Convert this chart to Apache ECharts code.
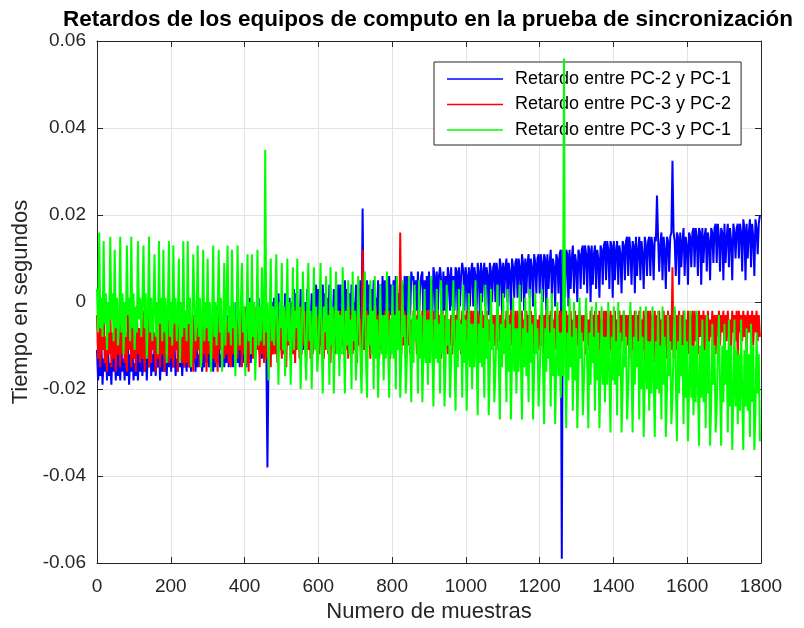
<!DOCTYPE html>
<html>
<head>
<meta charset="utf-8">
<script src="https://cdn.jsdelivr.net/npm/echarts@6/dist/echarts.min.js"></script>
<style>
  html, body { margin: 0; padding: 0; background: #ffffff; }
  #chart { width: 804px; height: 628px; }
</style>
</head>
<body>
<div id="chart"></div>
<script>
// Una muestra graficada cada PASO muestras del registro
const PASO = 3;

// Retardos en milisegundos (se convierten a segundos al graficar)
const retardoPC2PC1 = [
  -11,-18,-12,-17,-10,-19,-13,-16,-8,-18,-11,-17,-14,-19,-10,-16,-12,-18,-9,-17,
  -12,-18,-10,-16,-13,-18,-7,-17,-11,-19,-12,-16,-10,-18,-14,-17,-9,-18,-11,-16,
  -10,-17,-13,-16,-9,-18,-11,-15,-6,-17,-12,-16,-10,-17,-13,-15,-9,-18,-11,-16,
  -9,-16,-12,-17,-10,-15,-4,-16,-11,-15,-9,-17,-13,-16,-8,-15,-10,-17,-12,-15,
  -11,-16,-8,-15,-12,-16,-9,-14,-3,-16,-10,-15,-12,-14,-8,-16,-11,-15,-5,-14,
  -8,-15,-11,-14,-7,-16,-10,-15,-1,-14,-9,-15,-12,-13,-7,-15,-10,-14,-3,-15,
  -7,-14,-10,-15,-5,-13,0,-14,-8,-15,-6,-12,-11,-14,-4,-15,-9,-13,1,-14,
  -5,-12,-8,-13,-3,-11,1,-12,-6,-13,-4,-11,-9,-12,-38,-13,-3,-11,0,-12,
  1,-8,-2,-9,2,-7,0,-12,-1,-8,2,-9,-3,-7,1,-11,0,-8,3,-9,
  2,-7,-1,-8,3,-6,1,-11,0,-7,3,-8,-2,-6,2,-10,1,-7,4,-8,
  3,-6,0,-7,4,-5,2,-10,1,-6,4,-7,-1,-5,3,-9,2,-6,4,-7,
  4,-5,1,-6,5,-4,3,-9,2,-5,4,-6,0,-4,4,-8,3,-5,5,-6,
  21.5,-4,2,-5,5,-3,4,-8,3,-4,5,-5,1,-3,5,-7,4,-4,6,-5,
  5,-4,3,-4,6,-3,4,-7,5,-3,6,-4,2,-2,6,-6,4,-3,6,-4,
  6,-3,4,-3,7,5,6,-6,5,-2,7,-3,3,6,7,-5,5,-3,6,-2,
  7,-2,5,-3,8,6,-5,7,-2,6,8,5,-3,7,-2,6,-4,8,6,-2,
  8,-1,6,-2,8,7,-4,8,-1,6,9,7,-2,8,6,-3,8,-1,7,9,
  -1,8,6,-2,9,7,-4,9,0,7,9,-1,8,6,-3,9,7,0,8,9,
  0,9,7,-1,10,8,-3,9,1,8,10,0,9,7,-2,10,8,1,9,10,
  1,10,8,0,11,9,-2,10,2,9,11,1,10,8,-1,11,9,2,10,11,
  2,11,9,0,11,10,-2,11,3,9,12,1,10,8,-1,11,10,2,11,12,
  -59,12,10,1,12,11,-1,12,3,10,13,2,11,9,0,12,11,3,12,13,
  4,13,11,2,13,12,0,13,4,11,13,3,12,10,1,13,12,4,13,14,
  5,14,12,3,14,13,1,14,5,12,14,4,13,11,2,14,13,5,14,15,
  6,15,12,4,14,13,2,15,6,12,15,5,14,11,3,15,13,6,14,15,
  6,15,13,5,15,14,24.5,15,7,13,16,5,15,12,3,15,14,7,15,16,
  32.5,16,14,6,16,15,4,16,8,14,17,6,15,13,4,16,15,8,16,17,
  8,17,15,6,17,16,4,17,9,15,17,7,16,14,5,17,16,9,17,18,
  9,18,15,7,17,16,5,18,9,15,18,8,17,14,5,18,16,10,17,18,
  10,18,16,7,19,17,5,18,10,16,19,8,18,15,6,19,17,11,18,20
];

const retardoPC3PC2 = [
  -3,-13,-1,-15,-6,-11,-2,-14,-8,-16,-4,-12,-1,-15,-7,-13,-3,-16,-5,-12,
  -2,-15,-5,-12,-1,-14,-7,-16,-3,-11,-6,-15,-2,-13,-4,-16,-1,-12,-6,-14,
  -4,-13,-2,-16,-6,-12,-1,-15,-5,-14,-3,-11,-7,-16,-2,-13,-4,-15,-1,-12,
  -5,-16,-2,-12,-4,-14,-1,-13,-6,-15,-3,-11,-2,-16,-5,-12,-1,-14,-4,-15,
  -2,-14,-5,-15,-1,-12,-4,-16,-3,-13,-6,-11,-2,-15,-4,-14,-1,-12,-5,-16,
  -3,-12,-1,-15,-5,-13,-2,-14,-4,-16,-1,-11,-3,-15,-6,-13,-2,-12,-4,-14,
  -1,-15,-4,-12,-2,-14,-5,-13,-3,-11,-2,-15,-4,-12,-1,-14,-3,-16,-5,-12,
  -2,-13,-4,-14,-1,-11,-3,-15,-2,-12,-5,-14,-3,-13,-2,-11,-4,-15,-1,-12,
  -3,-12,-2,-14,-4,-11,-1,-13,-3,-12,-2,-15,-4,-10,-2,-13,-3,-12,-1,-14,
  -2,-11,-3,-13,-1,-12,-4,-10,-2,-14,-3,-11,-2,-13,-4,-12,-1,-10,-3,-13,
  -3,-12,-2,-10,-4,-13,-1,-11,-3,-12,-2,-14,-3,-10,-2,-12,-4,-11,-2,-13,
  -2,-10,-3,-12,-2,-11,-4,-13,-1,-10,-3,-12,-2,-11,-3,-14,-2,-10,-4,-12,
  12,-11,-3,-12,-2,-10,-4,-13,-2,-11,-3,-12,-1,-10,-3,-13,-2,-11,-4,-12,
  -2,-12,-3,-10,-2,-13,-4,-11,-2,-12,-3,-10,-2,-11,16,-12,-3,-10,-2,-13,
  -3,-10,-2,-12,-4,-11,-2,-9,-3,-12,-2,-10,-4,-11,-2,-13,-3,-9,-2,-11,
  -2,-11,-3,-9,-2,-12,-4,-10,-2,-11,-3,-13,-2,-9,-3,-11,-2,-12,-4,-10,
  -3,-12,-2,-10,-3,-9,-2,-11,-4,-12,-2,-10,-3,-11,-2,-9,-3,-12,-2,-10,
  -2,-10,-4,-11,-2,-12,-3,-9,-2,-11,-3,-10,-2,-12,-4,-9,-2,-11,-3,-10,
  -3,-11,-2,-9,-3,-12,-2,-10,-4,-11,-2,-9,-3,-12,-2,-10,-3,-11,-2,-13,
  -2,-9,-3,-11,-2,-10,-4,-12,-2,-9,-3,-11,-2,-10,-3,-12,-2,-9,-4,-11,
  -3,-10,-2,-12,-3,-9,-2,-11,-3,-10,-2,-12,-4,-9,-2,-11,-3,-10,-2,-12,
  -2,-11,-3,-9,-2,-12,-3,-10,-2,-11,-4,-9,-2,-12,-3,-10,-2,-11,-3,-9,
  -3,-12,-2,-10,-4,-11,-2,-9,-3,-12,-2,-10,-3,-11,-2,-13,-4,-10,-2,-11,
  -2,-10,-3,-12,-2,-11,-3,-13,-2,-10,-4,-12,-2,-11,-3,-9,-2,-12,-3,-10,
  -3,-13,-2,-11,-3,-14,-2,-10,-3,-12,-2,-13,-4,-11,-2,-14,-3,-12,-2,-10,
  -2,-12,-3,-14,-2,-11,-3,-13,-2,-12,-4,-14,-2,-10,-3,-13,-2,-12,-3,-11,
  8,-13,-2,-11,-3,-14,-2,-12,-3,-10,-2,-13,-4,-11,-2,-12,-3,-14,-2,-11,
  -2,-9,-3,-12,-2,-8,-3,-10,-2,-13,-3,-9,-2,-11,-4,-8,-2,-10,-3,-12,
  -3,-8,-2,-10,-3,-7,-2,-12,-3,-9,-2,-8,-4,-11,-2,-7,-3,-9,-2,-13,
  -2,-7,-3,-9,-2,-8,-3,-12,-2,-7,-3,-8,-2,-10,-3,-7,-2,-9,-3,-8
];

const retardoPC3PC1 = [
  3,-7,16,-6,1,-8,14,-5,2,-11,0,-7,15,-4,2,-9,12,-6,1,-10,
  -5,15,-7,2,-12,0,-8,13,-3,1,-9,15,-6,2,-11,-1,-7,14,-4,1,
  -8,0,13,-6,2,-13,-3,15,-7,1,-9,-2,11,-8,0,-12,14,-5,1,-9,
  12,-7,1,-14,-2,14,-8,0,-10,13,-5,1,-9,-3,10,-14,0,-8,14,-6,
  -2,-9,14,-5,1,-15,-7,11,0,-9,-3,13,-8,1,-15,-4,12,-9,0,-6,
  10,-9,0,-16,-4,13,-8,0,-10,-2,12,-7,1,-16,-5,9,-10,0,13,-7,
  -1,-10,12,-6,0,-17,-8,13,-3,-10,0,9,-7,-1,-17,-5,11,-9,0,-12,
  11,-8,0,-18,-5,12,-10,-1,-9,8,-4,-10,35,-7,0,-18,-3,10,-9,-1,
  -10,-2,11,-8,-19,0,-6,9,-11,-1,-17,-5,10,-9,0,-19,-7,8,-11,-2,
  -6,10,-11,-1,-20,-8,7,-3,-11,-18,0,9,-9,-2,-20,-7,8,-11,-1,-16,
  -12,-2,9,-9,-21,-1,-7,6,-11,-3,-19,8,-10,-1,-21,-6,7,-12,-2,-17,
  -3,-12,8,-7,-21,-2,-10,5,-12,-4,-20,7,-9,-2,-18,-11,6,-3,-12,-21,
  -8,-2,7,-13,-22,-3,-10,5,-12,-2,-20,6,-13,-4,-22,-9,4,-12,-3,-18,
  -3,-13,7,-10,-22,-4,-12,4,-13,-3,-20,6,-11,-2,-22,-13,5,-8,-3,-21,
  -13,-4,6,-11,-23,-3,-14,4,-9,-4,-21,5,-13,-3,-23,-12,3,-14,-4,-19,
  -4,-14,6,-11,-24,-4,-13,3,-14,-5,-21,5,-12,-3,-24,-14,4,-10,-4,-22,
  -14,-5,5,-12,-25,-4,-15,3,-11,-5,-22,4,-14,-4,-25,-13,2,-15,-5,-20,
  -5,-15,5,-12,-26,-5,-14,2,-15,-6,-22,4,-13,-4,-26,-15,3,-11,-5,-23,
  -16,-6,4,-13,-27,-5,-15,2,-12,-6,-23,3,-16,-5,-27,-14,1,-16,-6,-21,
  -6,-16,4,-13,-27,-6,-15,1,-17,-7,-23,3,-14,-5,-27,-16,2,-12,-6,-24,
  -17,-7,3,-14,-28,-6,-16,1,-13,-7,-24,2,-17,-6,-28,-15,0,-17,-7,-22,
  -7,-17,56,-14,-29,-7,-18,1,-15,-8,-25,0,-18,-6,-29,-16,1,-13,-7,-26,
  -18,-8,1,-15,-29,-7,-19,-1,-14,-8,-25,0,-18,-7,-29,-16,-1,-19,-8,-23,
  -8,-19,0,-16,-30,-8,-18,-1,-19,-9,-26,0,-17,-7,-30,-19,-2,-15,-8,-27,
  -20,-9,0,-16,-30,-8,-19,-2,-15,-9,-27,-1,-20,-8,-31,-18,-1,-20,-9,-25,
  -9,-21,-1,-17,-31,-9,-20,-2,-21,-10,-27,-1,-19,-8,-31,-21,-3,-17,-9,-28,
  -22,-10,-1,-18,-32,-9,-21,-3,-17,-10,-28,-2,-22,-9,-32,-20,-2,-22,-10,-26,
  -10,-23,-2,-19,-33,-10,-22,-4,-23,-11,-29,-3,-21,-9,-33,-23,-5,-19,-10,-30,
  -24,-11,-3,-20,-33,-10,-23,-5,-19,-11,-30,-4,-24,-10,-34,-22,-4,-24,-11,-28,
  -12,-25,-4,-21,-34,-11,-24,-6,-25,-12,-31,-5,-23,-10,-34,-25,-7,-21,-12,-32
];

const nombresSeries = [
  'Retardo entre PC-2 y PC-1',
  'Retardo entre PC-3 y PC-2',
  'Retardo entre PC-3 y PC-1'
];
const coloresSeries = ['#0000ff', '#ff0000', '#00ff00'];

const titulo = 'Retardos de los equipos de computo en la prueba de sincronización';
const etiquetaX = 'Numero de muestras';
const etiquetaY = 'Tiempo en segundos';

// Pares [muestra, segundos]
function aPares(valoresMs) {
  return valoresMs.map((v, i) => [i * PASO, v / 1000]);
}

const FUENTE = '"Liberation Sans", Arial, Helvetica, sans-serif';
const GRIS = '#262626';

const chart = echarts.init(document.getElementById('chart'), null, { renderer: 'canvas' });

const ejeX = {
  type: 'value', min: 0, max: 1800, interval: 200,
  axisLine: { show: true, onZero: false, lineStyle: { color: GRIS, width: 1 } },
  axisTick: { show: true, inside: true, length: 6, lineStyle: { color: GRIS } },
  splitLine: { show: true, lineStyle: { color: '#e3e3e3', width: 1 } }
};
const ejeY = {
  type: 'value', min: -0.06, max: 0.06, interval: 0.02,
  axisLine: { show: true, onZero: false, lineStyle: { color: GRIS, width: 1 } },
  axisTick: { show: true, inside: true, length: 6, lineStyle: { color: GRIS } },
  splitLine: { show: true, lineStyle: { color: '#e3e3e3', width: 1 } }
};

chart.setOption({
  animation: false,
  backgroundColor: '#ffffff',
  title: {
    text: titulo,
    left: 423, top: 3, textAlign: 'center',
    textStyle: { fontFamily: FUENTE, fontSize: 22.5, fontWeight: 'bold', color: '#000' }
  },
  grid: { left: 97, right: 43, top: 41, bottom: 64, containLabel: false },
  legend: {
    orient: 'vertical',
    left: 434, top: 62,
    icon: 'rect',
    itemWidth: 56, itemHeight: 1.5, itemGap: 7.5,
    padding: [8, 10, 6, 13],
    borderColor: GRIS, borderWidth: 1, backgroundColor: '#ffffff',
    textStyle: { fontFamily: FUENTE, fontSize: 18, lineHeight: 18, color: '#000', padding: [0, 0, 0, 7] },
    data: nombresSeries
  },
  xAxis: [
    Object.assign({}, ejeX, {
      position: 'bottom',
      name: etiquetaX, nameLocation: 'middle', nameGap: 37,
      nameTextStyle: { fontFamily: FUENTE, fontSize: 22, color: GRIS },
      axisLabel: { fontFamily: FUENTE, fontSize: 19, color: GRIS, margin: 14,
        formatter: v => String(v) }
    }),
    Object.assign({}, ejeX, {
      position: 'top', axisLabel: { show: false }, splitLine: { show: false }
    })
  ],
  yAxis: [
    Object.assign({}, ejeY, {
      position: 'left',
      name: etiquetaY, nameLocation: 'middle', nameGap: 60,
      nameTextStyle: { fontFamily: FUENTE, fontSize: 22, color: GRIS },
      axisLabel: { fontFamily: FUENTE, fontSize: 19, color: GRIS, margin: 11 }
    }),
    Object.assign({}, ejeY, {
      position: 'right', axisLabel: { show: false }, splitLine: { show: false }
    })
  ],
  series: [
    { name: nombresSeries[0], data: aPares(retardoPC2PC1) },
    { name: nombresSeries[1], data: aPares(retardoPC3PC2) },
    { name: nombresSeries[2], data: aPares(retardoPC3PC1) }
  ].map((s, i) => Object.assign(s, {
    type: 'line',
    xAxisIndex: 0, yAxisIndex: 0,
    symbol: 'none',
    color: coloresSeries[i],
    lineStyle: { color: coloresSeries[i], width: 2, join: 'miter', miterLimit: 1 },
    emphasis: { disabled: true },
    z: 2 + i
  }))
});
</script>
</body>
</html>
